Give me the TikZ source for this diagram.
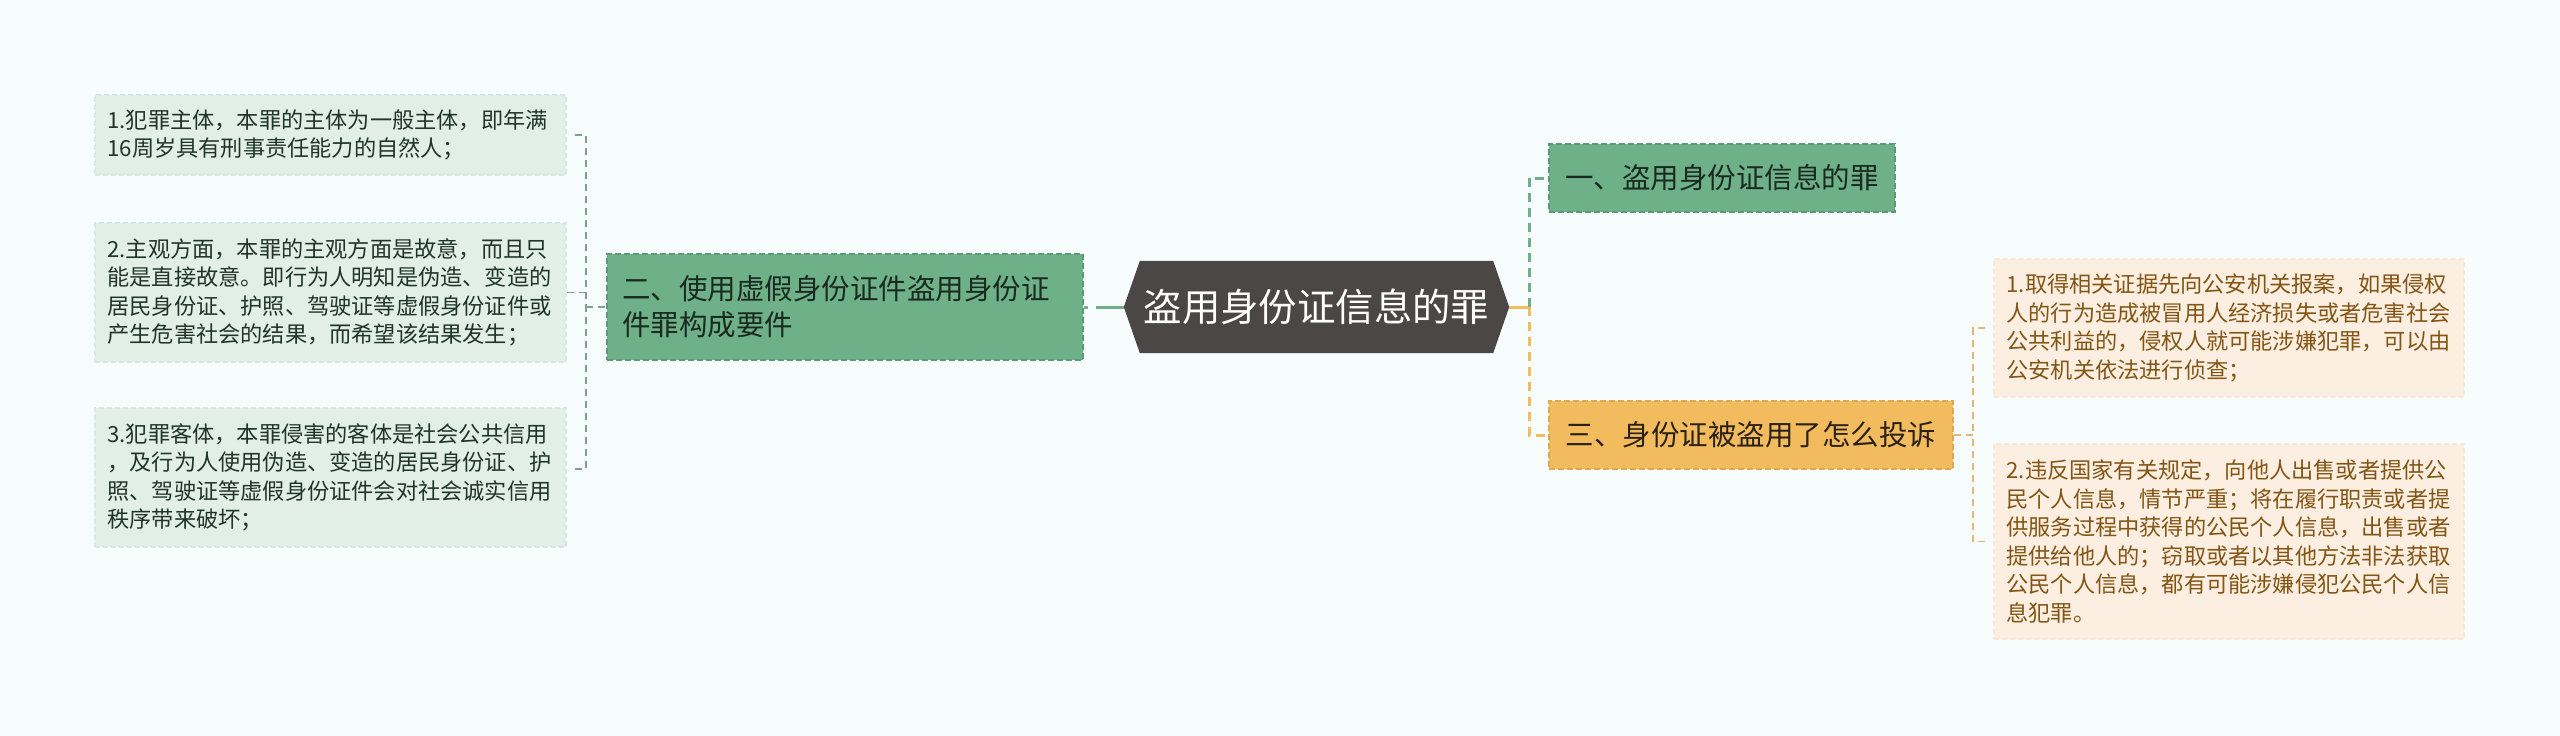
\documentclass[tikz,border=0pt]{standalone}
\usepackage{fontspec}
\setmainfont{Noto Sans CJK SC}
\usetikzlibrary{calc}
\definecolor{bg}{HTML}{F7FCFC}
\definecolor{Lfill}{HTML}{E2EFE6}
\definecolor{Lbd}{HTML}{D9E8DE}
\definecolor{Ltext}{HTML}{1F3527}
\definecolor{Gfill}{HTML}{6EB088}
\definecolor{Gbd}{HTML}{5A9A74}
\definecolor{Gtext}{HTML}{1A2A20}
\definecolor{Cfill}{HTML}{4B4747}
\definecolor{Ofill}{HTML}{F2BB5E}
\definecolor{Obd}{HTML}{E2A74C}
\definecolor{Otext}{HTML}{2B2116}
\definecolor{Rfill}{HTML}{FCEFE1}
\definecolor{Rbd}{HTML}{F8E8D6}
\definecolor{Rtext}{HTML}{835514}
\definecolor{brkG}{HTML}{7FA28C}
\definecolor{brkO}{HTML}{E3B77A}
\tikzset{
  leafL/.style={draw=Lbd, dash pattern=on 5pt off 3pt, line width=1.2pt, fill=Lfill, text=Ltext,
    font=\fontsize{22.2}{28.3}\selectfont, align=left, text width=446pt, inner xsep=12.5pt, inner ysep=0pt},
  leafR/.style={draw=Rbd, dash pattern=on 5pt off 3pt, line width=1.2pt, fill=Rfill, text=Rtext,
    font=\fontsize{22.2}{28.5}\selectfont, align=left, text width=445pt, inner xsep=12.5pt, inner ysep=0pt},
  hdrG/.style={draw=Gbd, dash pattern=on 6pt off 3pt, line width=1.5pt, fill=Gfill, text=Gtext,
    font=\fontsize{28.5}{36}\selectfont, inner xsep=15pt, inner ysep=0pt, minimum height=68pt},
  hdrO/.style={draw=Obd, dash pattern=on 6pt off 3pt, line width=1.5pt, fill=Ofill, text=Otext,
    font=\fontsize{28.5}{36}\selectfont, inner xsep=15pt, inner ysep=0pt, minimum height=68pt},
  brkL/.style={draw=brkG, line width=1.5pt, dash pattern=on 7pt off 5pt},
  brkR/.style={draw=brkO, line width=1.5pt, dash pattern=on 7pt off 5pt},
  thickG/.style={draw=Gfill, line width=3pt, dash pattern=on 9pt off 6pt},
  thickO/.style={draw=Ofill, line width=3pt, dash pattern=on 9pt off 6pt},
}
\begin{document}
\begin{tikzpicture}[x=1pt, y=-1pt]
\fill[bg] (0,0) rectangle (2560,736);
\useasboundingbox (0,0) rectangle (2560,736);

% left leaves
\node[leafL, minimum height=80pt] (L1) at (330.5,135) {1.犯罪主体，本罪的主体为一般主体，即年满\\16周岁具有刑事责任能力的自然人；};
\node[leafL, minimum height=139pt] (L2) at (330.5,292.5) {2.主观方面，本罪的主观方面是故意，而且只\\能是直接故意。即行为人明知是伪造、变造的\\居民身份证、护照、驾驶证等虚假身份证件或\\产生危害社会的结果，而希望该结果发生；};
\node[leafL, minimum height=139pt] (L3) at (330.5,477.5) {3.犯罪客体，本罪侵害的客体是社会公共信用\\，及行为人使用伪造、变造的居民身份证、护\\照、驾驶证等虚假身份证件会对社会诚实信用\\秩序带来破坏；};

% branch two
\node[hdrG, align=left, text width=446pt, minimum height=106pt] (n2) at (845,307) {二、使用虚假身份证件盗用身份证\\件罪构成要件};

% center
\node[minimum width=385pt, minimum height=92pt, inner sep=0pt] (c) at (1316.5,307) {};
\fill[Cfill] (c.west) -- ([xshift=16pt]c.north west) -- ([xshift=-16pt]c.north east) -- (c.east)
  -- ([xshift=-16pt]c.south east) -- ([xshift=16pt]c.south west) -- cycle;
\node[text=white, font=\fontsize{38.4}{44}\selectfont, inner sep=0pt] (ct) at (c.center) {盗用身份证信息的罪};

% right branches
\node[hdrG, minimum width=346pt] (n1) at (1722,178) {一、盗用身份证信息的罪};
\node[hdrO, minimum width=404pt] (n3) at (1751,435) {三、身份证被盗用了怎么投诉};

% right leaves
\node[leafR, minimum height=138pt] (R1) at (2229,328) {1.取得相关证据先向公安机关报案，如果侵权\\人的行为造成被冒用人经济损失或者危害社会\\公共利益的，侵权人就可能涉嫌犯罪，可以由\\公安机关依法进行侦查；};
\node[leafR, minimum height=195pt] (R2) at (2229,541.5) {2.违反国家有关规定，向他人出售或者提供公\\民个人信息，情节严重；将在履行职责或者提\\供服务过程中获得的公民个人信息，出售或者\\提供给他人的；窃取或者以其他方法非法获取\\公民个人信息，都有可能涉嫌侵犯公民个人信\\息犯罪。};

% left bracket
\coordinate (lb) at (586,307);
\draw[brkL] ([xshift=8pt]L1.east) -| (lb);
\draw[brkL] ([xshift=8pt, yshift=8.5pt]L3.east) -| (lb);
\draw[brkL] (L2.east) -- (L2.east -| lb);
\draw[brkL] (lb) -- (n2.west);

% two to center
\draw[draw=Gfill, line width=3pt, dash pattern=on 28pt off 8pt] (c.west) -- (n2.east);

% center to right
\coordinate (rb) at (1529,307);
\draw[draw=Ofill, line width=3pt] (c.east) -- (rb);
\draw[thickG] (rb) |- (n1.west);
\draw[thickO] (rb) |- (n3.west);

% right bracket
\coordinate (rb2) at (1973,435);
\draw[brkR] (n3.east) -- (rb2);
\draw[brkR] ([xshift=-8pt]R1.west) -| (rb2);
\draw[brkR] ([xshift=-8pt]R2.west) -| (rb2);
\end{tikzpicture}
\end{document}
